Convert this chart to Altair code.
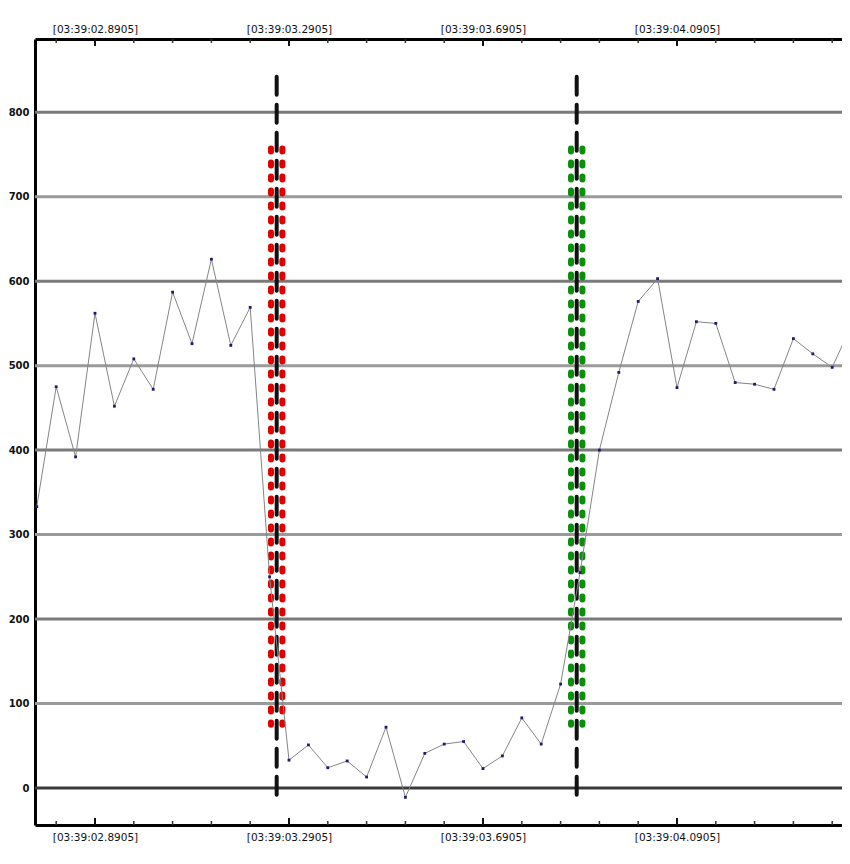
import altair as alt
import pandas as pd

# ---- data ----
times = [round(2.8905 + 0.04 * k, 4) for k in range(-3, 40)]
values = [333, 475, 392, 562, 452, 508, 472, 587, 526, 626, 524, 569,
          250, 33, 51, 24, 32, 13, 72, -11, 41, 52, 55, 23, 38, 83, 52,
          123, 255, 400, 492, 576, 603, 474, 552, 550, 480, 478, 472,
          532, 514, 498, 548]

grid_values = [0, 100, 200, 300, 400, 500, 600, 700, 800]
grid_colors = ["#3a3a3a", "#9a9a9a", "#7a7a7a", "#9a9a9a", "#7a7a7a",
               "#9a9a9a", "#7a7a7a", "#9a9a9a", "#7a7a7a"]

major_ticks = [2.8905, 3.2905, 3.6905, 4.0905]
minor_ticks = [2.8105, 2.9705, 3.0505, 3.1305, 3.2105, 3.3705, 3.4505,
               3.5305, 3.6105, 3.7705, 3.8505, 3.9305, 4.0105, 4.1705,
               4.2505, 4.3305, 4.4105]

event_times = [3.2651, 3.8837]
event_colors = ["#e00000", "#0a8f0a"]
column_top, column_bottom = 757, 75
event_top, event_bottom = 842, -14

W, H = 807, 786

line_df = pd.DataFrame({"t": times, "v": values})
grid_df = pd.DataFrame({"g": grid_values, "c": grid_colors})
major_df = pd.DataFrame({"t": major_ticks})
minor_df = pd.DataFrame({"t": minor_ticks})
ev_df = pd.DataFrame({"t": event_times, "c": event_colors,
                      "y1": [column_top] * 2, "y2": [column_bottom] * 2,
                      "e1": [event_top] * 2, "e2": [event_bottom] * 2})

xscale = alt.Scale(domain=[2.7668, 4.4307], nice=False, zero=False)
yscale = alt.Scale(domain=[-43.8, 886.7], nice=False, zero=False)

label_expr = "'[03:39:0' + format(datum.value, '.4f') + ']'"

def xaxis(orient, pad):
    return alt.Axis(orient=orient, values=major_ticks, labelExpr=label_expr,
                    ticks=False, grid=False, domain=True, domainColor="black",
                    domainWidth=3, labelFont="DejaVu Sans", labelFontSize=10.5,
                    labelColor="#111111", labelPadding=pad, title=None,
                    labelOverlap=False, labelFlush=False)

yaxis = alt.Axis(values=grid_values, ticks=False, grid=False, domain=True,
                 domainColor="black", domainWidth=3, labelFont="DejaVu Sans",
                 labelFontWeight="bold", labelFontSize=10, labelColor="#111111",
                 labelPadding=6, title=None)

grid = alt.Chart(grid_df).mark_rule(strokeWidth=3).encode(
    y=alt.Y("g:Q", scale=yscale, axis=yaxis),
    color=alt.Color("c:N", scale=None),
)

cols = []
for off in (-5.7, 5.7):
    cols.append(alt.Chart(ev_df).mark_rule(
        strokeWidth=6, strokeDash=[3, 11], strokeCap="round", xOffset=off
    ).encode(
        x=alt.X("t:Q", scale=xscale, axis=None),
        y=alt.Y("y1:Q", scale=yscale, axis=yaxis),
        y2="y2:Q",
        color=alt.Color("c:N", scale=None),
    ))

events = alt.Chart(ev_df).mark_rule(
    strokeWidth=4, strokeDash=[18, 10], strokeCap="round", color="#111111"
).encode(
    x=alt.X("t:Q", scale=xscale, axis=None),
    y=alt.Y("e1:Q", scale=yscale, axis=yaxis),
    y2="e2:Q",
)

line = alt.Chart(line_df).mark_line(color="#858585", strokeWidth=1, clip=True).encode(
    x=alt.X("t:Q", scale=xscale, axis=xaxis("top", 5)),
    y=alt.Y("v:Q", scale=yscale, axis=yaxis),
)

pts = alt.Chart(line_df).mark_square(size=8, color="#1c1c70", opacity=1, clip=True).encode(
    x=alt.X("t:Q", scale=xscale, axis=None),
    y=alt.Y("v:Q", scale=yscale, axis=yaxis),
)

top_major = alt.Chart(major_df).mark_rule(strokeWidth=2, color="#111").encode(
    x=alt.X("t:Q", scale=xscale, axis=None), y=alt.value(0), y2=alt.value(7))
top_minor = alt.Chart(minor_df).mark_rule(strokeWidth=1.5, color="#333").encode(
    x=alt.X("t:Q", scale=xscale, axis=None), y=alt.value(0), y2=alt.value(4))
bot_major = alt.Chart(major_df).mark_rule(strokeWidth=2, color="#111").encode(
    x=alt.X("t:Q", scale=xscale, axis=xaxis("bottom", 7)), y=alt.value(H - 7), y2=alt.value(H))
bot_minor = alt.Chart(minor_df).mark_rule(strokeWidth=1.5, color="#333").encode(
    x=alt.X("t:Q", scale=xscale, axis=None), y=alt.value(H - 4), y2=alt.value(H))

chart = alt.layer(
    grid, *cols, events, line, pts, top_major, top_minor, bot_major, bot_minor
).resolve_axis(x="independent").properties(
    width=W, height=H,
    padding={"left": 27, "top": 31, "right": 0, "bottom": 20},
    autosize="none", background="white",
).configure_view(stroke=None)

chart.save("out.html", embed_options={"renderer": "svg", "actions": False})
